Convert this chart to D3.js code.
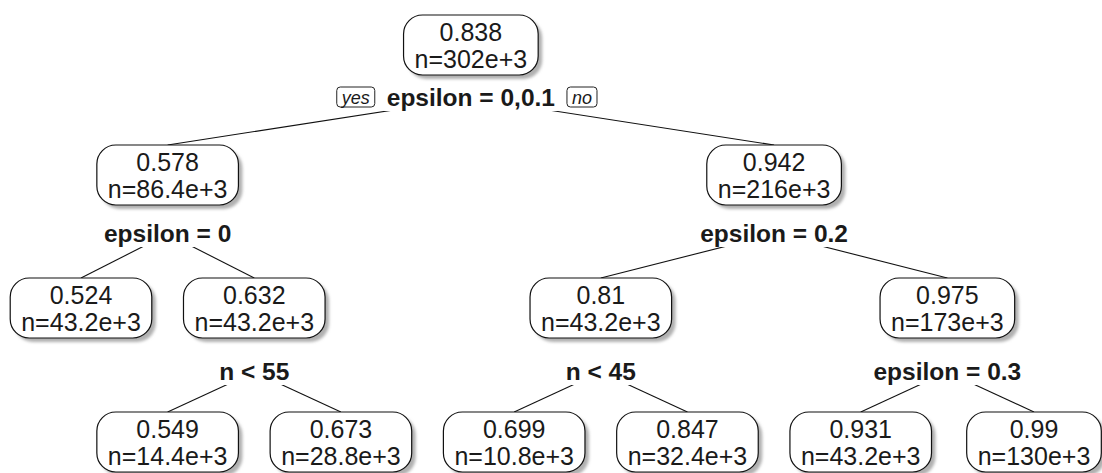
<!DOCTYPE html>
<html>
<head>
<meta charset="utf-8">
<script src="https://cdn.jsdelivr.net/npm/d3@7"></script>
<style>
  body { margin: 0; background: #fff; }
  svg { font-family: "Liberation Sans", Arial, Helvetica, sans-serif; }
  .nodeText { font-size: 25px; fill: #1a1a1a; }
  .splitText { font-size: 24.5px; font-weight: bold; fill: #1a1a1a; }
  .yesNo { font-size: 18px; font-style: italic; fill: #1a1a1a; }
</style>
</head>
<body>
<svg id="chart" width="1102" height="473"></svg>
<script>
// tree data (rpart node numbering: children of k are 2k and 2k+1)
let nodeIds = [1, 2, 3, 4, 5, 6, 7, 10, 11, 12, 13, 14, 15]
let nodeYval = ["0.838", "0.578", "0.942", "0.524", "0.632", "0.81", "0.975", "0.549", "0.673", "0.699", "0.847", "0.931", "0.99"]
let nodeN = ["302e+3", "86.4e+3", "216e+3", "43.2e+3", "43.2e+3", "43.2e+3", "173e+3", "14.4e+3", "28.8e+3", "10.8e+3", "32.4e+3", "43.2e+3", "130e+3"]
let splitIds = [1, 2, 3, 5, 6, 7]
let splitText = ["epsilon = 0,0.1", "epsilon = 0", "epsilon = 0.2", "n < 55", "n < 45", "epsilon = 0.3"]

let svg = d3.select("#chart")

let plotVars = ({
    boxHeight: 60,
    boxPad: 11,
    lineGap: 27,
})

// split label distance below each box, by depth
let labelOffset = [31, 37, 42]

// shadow filter for the node boxes
let defs = svg.append("defs")
let filt = defs.append("filter").attr("id", "blur").attr("x", "-20%").attr("y", "-20%").attr("width", "140%").attr("height", "140%")
filt.append("feGaussianBlur").attr("stdDeviation", 1.6)

// build the hierarchy
let table = nodeIds.map((id, i) => ({
    id: String(id),
    parent: id === 1 ? "" : String(Math.floor(id / 2)),
    yval: nodeYval[i],
    n: nodeN[i],
    split: splitIds.includes(id) ? splitText[splitIds.indexOf(id)] : null,
}))

let root = d3.stratify().id(d => d.id).parentId(d => d.parent)(table)
root.sort((a, b) => (+a.id) - (+b.id))

d3.tree().nodeSize([1, 1]).separation(() => 1)(root)

let xScale = d3.scaleLinear()
    .domain(d3.extent(root.descendants(), d => d.x))
    .range([81, 1034])

let yScale = d3.scaleLinear()
    .domain([0, 1, 2, 3])
    .range([45, 175, 308, 442])

let nodes = root.descendants()
nodes.forEach(d => {
    d.cx = xScale(d.x)
    d.cy = yScale(d.depth)
    d.labelY = d.cy + plotVars.boxHeight / 2 + (labelOffset[d.depth] || 0)
})

// branches: from the split label centre to the top of the child box
let edgeG = svg.append("g")
edgeG.selectAll("line")
    .data(root.links())
    .join("line")
    .attr("x1", d => d.source.cx)
    .attr("y1", d => d.source.labelY - 8)
    .attr("x2", d => d.target.cx)
    .attr("y2", d => d.target.cy - plotVars.boxHeight / 2)
    .attr("stroke", "#111")
    .attr("stroke-width", 1.1)

// split labels with white background
let splitG = svg.append("g")
    .selectAll("g")
    .data(nodes.filter(d => d.data.split))
    .join("g")

splitG.append("text")
    .attr("class", "splitText")
    .attr("x", d => d.cx)
    .attr("y", d => d.labelY)
    .attr("text-anchor", "middle")
    .text(d => d.data.split)

splitG.each(function (d) {
    let t = d3.select(this).select("text")
    let bb = t.node().getBBox()
    d3.select(this).insert("rect", "text")
        .attr("x", bb.x - 3)
        .attr("y", bb.y + 1)
        .attr("width", bb.width + 6)
        .attr("height", bb.height - 1)
        .attr("fill", "#fff")
    d.labelW = bb.width
})

// yes / no tags beside the root split
let tags = [
    { text: "yes", side: -1 },
    { text: "no", side: 1 },
]
let tagG = svg.append("g").selectAll("g").data(tags).join("g")
tagG.append("text")
    .attr("class", "yesNo")
    .attr("y", root.labelY - 2)
    .attr("text-anchor", "middle")
    .text(d => d.text)
tagG.each(function (d) {
    let t = d3.select(this).select("text")
    let w = t.node().getComputedTextLength()
    let boxW = w + 10
    let cx = root.cx + d.side * (root.labelW / 2 + 12 + boxW / 2)
    t.attr("x", cx)
    d3.select(this).insert("rect", "text")
        .attr("x", cx - boxW / 2)
        .attr("y", root.labelY - 19)
        .attr("width", boxW)
        .attr("height", 20)
        .attr("rx", 3.5)
        .attr("fill", "#fff")
        .attr("stroke", "#222")
        .attr("stroke-width", 1)
})

// node boxes
let nodeG = svg.append("g")
    .selectAll("g")
    .data(nodes)
    .join("g")
    .attr("transform", d => `translate(${d.cx},${d.cy})`)

nodeG.append("rect").attr("class", "shadow")
nodeG.append("rect").attr("class", "box")

nodeG.append("text")
    .attr("class", "nodeText")
    .attr("text-anchor", "middle")
    .attr("y", -4.5)
    .text(d => d.data.yval)

nodeG.append("text")
    .attr("class", "nodeText")
    .attr("text-anchor", "middle")
    .attr("y", -4.5 + plotVars.lineGap)
    .text(d => "n=" + d.data.n)

nodeG.each(function (d) {
    let g = d3.select(this)
    let w = d3.max(g.selectAll("text").nodes(), t => t.getComputedTextLength())
    let bw = w + plotVars.boxPad * 2
    let bh = plotVars.boxHeight
    g.select(".shadow")
        .attr("x", -bw / 2 + 4)
        .attr("y", -bh / 2 + 4)
        .attr("width", bw)
        .attr("height", bh)
        .attr("rx", 19)
        .attr("fill", "#b0b0b0")
        .attr("filter", "url(#blur)")
    g.select(".box")
        .attr("x", -bw / 2)
        .attr("y", -bh / 2)
        .attr("width", bw)
        .attr("height", bh)
        .attr("rx", 19)
        .attr("fill", "#fff")
        .attr("stroke", "#111")
        .attr("stroke-width", 1.2)
})
</script>
</body>
</html>
